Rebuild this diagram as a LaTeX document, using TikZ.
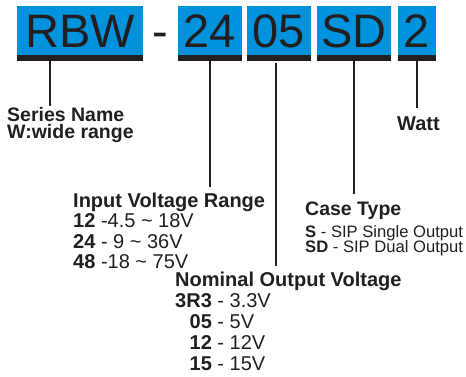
\documentclass[tikz,border=0pt]{standalone}
\usepackage{fontspec}
\setmainfont{Liberation Sans}
\usetikzlibrary{positioning}
\definecolor{codeblue}{RGB}{0,147,221}
\definecolor{ink}{RGB}{35,31,32}
\newcommand{\tightskip}{\lineskiplimit-10pt\relax}
\begin{document}
\begin{tikzpicture}[
    x=1pt, y=-1pt,
    node distance=5pt,
    code/.style={
        rectangle,
        fill=codeblue,
        inner sep=0pt,
        outer sep=0pt,
        minimum height=49pt,
        text=ink,
        text height=34pt,
        text depth=0pt,
        font=\fontsize{47}{47}\selectfont
    },
    bar/.style={
        rectangle,
        fill=ink,
        inner sep=0pt,
        outer sep=0pt,
        minimum height=6pt
    },
    info/.style={
        anchor=north west,
        inner sep=0pt,
        align=left,
        text=ink,
        font=\fontsize{20}{20.5}\selectfont\tightskip
    },
    tick/.style={
        draw=ink,
        line width=2.5pt
    }
]
\useasboundingbox (0,0) rectangle (466,376);

% Codice
\node[code, minimum width=126pt] (rbw) at (80,30.5) {RBW};
\node[code, fill=none, right=9pt of rbw] (dash) {-};
\node[code, minimum width=64pt, right=35pt of rbw] (in) {24};
\node[code, minimum width=64pt, right=5pt of in] (out) {05};
\node[code, minimum width=74pt, right=6pt of out] (case) {SD};
\node[code, minimum width=38pt, right=7pt of case] (watt) {2};

% Barre
\node[bar, minimum width=126pt, below=0pt of rbw] (rbwbar) {};
\node[bar, minimum width=64pt, below=0pt of in] (inbar) {};
\node[bar, minimum width=64pt, below=0pt of out] (outbar) {};
\node[bar, minimum width=74pt, below=0pt of case] (casebar) {};
\node[bar, minimum width=38pt, below=0pt of watt] (wattbar) {};

% Descrizioni
\node[info, font=\fontsize{19.5}{17}\selectfont\bfseries\tightskip] (series) at (7,107) {
    Series Name\\
    W:wide range
};

\node[info, anchor=base, font=\fontsize{20}{20}\selectfont\bfseries] (power) at (418.5,130) {Watt};

\node[info] (inputs) at (73,192.4) {
    \textbf{Input Voltage Range}\\
    \textbf{12} -4.5 \textasciitilde{} 18V\\
    \textbf{24} - 9 \textasciitilde{} 36V\\
    \textbf{48} -18 \textasciitilde{} 75V
};

\node[info, font=\fontsize{20}{21}\selectfont\tightskip] (outputs) at (175,271.4) {
    \textbf{Nominal Output Voltage}\\
    \textbf{3R3} - 3.3V\\
    \hphantom{\textbf{R}}\textbf{05} - 5V\\
    \hphantom{\textbf{R}}\textbf{12} - 12V\\
    \hphantom{\textbf{R}}\textbf{15} - 15V
};

\node[info, font=\fontsize{16.6}{15}\selectfont\tightskip] (cases) at (305,201.7) {
    {\fontsize{19.5}{15}\selectfont\bfseries Case Type}\\[7pt]
    \textbf{S} - SIP Single Output\\
    \textbf{SD} - SIP Dual Output
};

% Linee
\coordinate (seriesdrop) at ([xshift=-30pt]rbwbar.south);
\coordinate (outdrop) at ([xshift=-3pt]outbar.south);
\draw[tick, shorten >=1pt] (seriesdrop) -- (seriesdrop |- series.north);
\draw[tick, shorten >=5.4pt] (inbar.south) -- (inbar.south |- inputs.north);
\draw[tick, shorten <=2pt, shorten >=5.4pt] (outdrop) -- (outdrop |- outputs.north);
\draw[tick, shorten >=7.7pt] (casebar.south) -- (casebar.south |- cases.north);
\draw[tick, shorten >=7.7pt] (wattbar.south) -- (wattbar.south |- power.north);

\end{tikzpicture}
\end{document}
